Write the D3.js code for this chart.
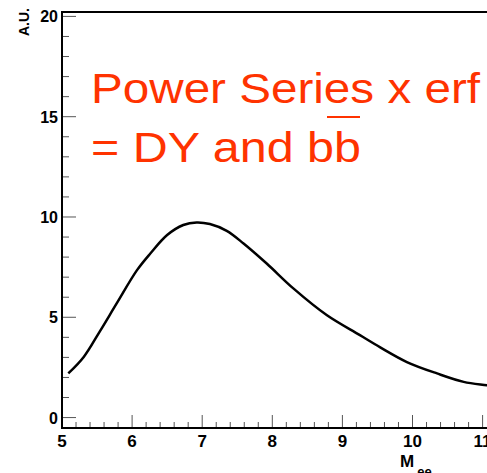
<!DOCTYPE html>
<html>
<head>
<meta charset="utf-8">
<script src="https://cdn.jsdelivr.net/npm/d3@7"></script>
<style>
body { margin: 0; background: #fff; }
svg { display: block; }
</style>
</head>
<body>
<div id="chart"></div>
<script>
var w = 487;
var h = 473;

// curve
var mass = [5.09, 5.31, 5.54, 5.78, 6.07, 6.26, 6.50, 6.73, 6.92, 7.11, 7.35, 7.59, 7.92, 8.30, 8.78, 9.25, 9.54, 9.92, 10.35, 10.73, 11.06, 11.3];
var yield_ = [2.2, 3.02, 4.3, 5.69, 7.35, 8.18, 9.10, 9.60, 9.73, 9.65, 9.31, 8.68, 7.68, 6.44, 5.10, 4.11, 3.5, 2.77, 2.2, 1.78, 1.61, 1.5];

var xTicks = [5, 6, 7, 8, 9, 10, 11];
var yTicks = [0, 5, 10, 15, 20];

var xScale = d3.scaleLinear()
			.domain([5, 11.5])
			.range([62, 62 + 6.5 * 70.1]);

var yScale = d3.scaleLinear()
			.domain([-0.52, 20.22])
			.range([428, 12]);

var svg = d3.select("#chart")
		.append("svg")
		.attr("width", w)
		.attr("height", h);

//minor ticks
var xMinor = d3.range(5, 11.5, 0.2).filter(function(d) { return Math.abs(d - Math.round(d)) > 0.01; });
var yMinor = d3.range(0, 20.1, 1).filter(function(d) { return d % 5 != 0; });

svg.selectAll(".xminor")
.data(xMinor)
.enter()
.append("line")
.attr("x1", function(d) { return xScale(d); })
.attr("x2", function(d) { return xScale(d); })
.attr("y1", 428)
.attr("y2", 422)
.attr("stroke", "#555")
.attr("stroke-width", 1);

svg.selectAll(".xmajor")
.data(xTicks)
.enter()
.append("line")
.attr("x1", function(d) { return xScale(d); })
.attr("x2", function(d) { return xScale(d); })
.attr("y1", 428)
.attr("y2", 415)
.attr("stroke", "#555")
.attr("stroke-width", 1);

svg.selectAll(".yminor")
.data(yMinor)
.enter()
.append("line")
.attr("x1", 62)
.attr("x2", 69)
.attr("y1", function(d) { return yScale(d); })
.attr("y2", function(d) { return yScale(d); })
.attr("stroke", "#555")
.attr("stroke-width", 1);

svg.selectAll(".ymajor")
.data(yTicks)
.enter()
.append("line")
.attr("x1", 62)
.attr("x2", 76)
.attr("y1", function(d) { return yScale(d); })
.attr("y2", function(d) { return yScale(d); })
.attr("stroke", "#555")
.attr("stroke-width", 1);

//frame
svg.append("path")
.attr("d", "M" + w + ",12H62V428H" + w)
.attr("fill", "none")
.attr("stroke", "#000")
.attr("stroke-width", 2);

//tick labels
svg.selectAll(".xlab")
.data(xTicks)
.enter()
.append("text")
.text(function(d) { return d; })
.attr("x", function(d) { return xScale(d); })
.attr("y", 447)
.attr("text-anchor", "middle")
.attr("font-family", "Liberation Sans, Arial, sans-serif")
.attr("font-weight", "bold")
.attr("font-size", "17px");

svg.selectAll(".ylab")
.data(yTicks)
.enter()
.append("text")
.text(function(d) { return d; })
.attr("x", 58)
.attr("y", function(d) { return yScale(d) + 6; })
.attr("text-anchor", "end")
.attr("font-family", "Liberation Sans, Arial, sans-serif")
.attr("font-weight", "bold")
.attr("font-size", "16px");

//axis titles
svg.append("text")
.attr("transform", "translate(29,8) rotate(-90)")
.attr("text-anchor", "end")
.attr("font-family", "Liberation Sans, Arial, sans-serif")
.attr("font-weight", "bold")
.attr("font-size", "14px")
.text("A.U.");

var mt = svg.append("text")
.attr("x", 400)
.attr("y", 467)
.attr("font-family", "Liberation Sans, Arial, sans-serif")
.attr("font-weight", "bold")
.attr("font-size", "17px");
mt.append("tspan").text("M");
mt.append("tspan").attr("dx", 3).attr("dy", 9).attr("font-size", "13px").text("ee");

//curve
var line = d3.line()
	.x(function(d, i) { return xScale(mass[i]); })
	.y(function(d) { return yScale(d); })
	.curve(d3.curveCatmullRom);

svg.append("path")
.datum(yield_)
.attr("d", line)
.attr("fill", "none")
.attr("stroke", "#000")
.attr("stroke-width", 2.5);

//annotation
var red = "#ff3300";
svg.append("text")
.attr("x", 91)
.attr("y", 103)
.attr("fill", red)
.attr("font-family", "Liberation Sans, Arial, sans-serif")
.attr("font-size", "43px")
.attr("textLength", 389)
.attr("lengthAdjust", "spacingAndGlyphs")
.text("Power Series x erf");

var t2 = svg.append("text")
.attr("x", 91)
.attr("y", 162)
.attr("fill", red)
.attr("font-family", "Liberation Sans, Arial, sans-serif")
.attr("font-size", "43px")
.attr("textLength", 270)
.attr("lengthAdjust", "spacingAndGlyphs")
.text("= DY and bb");

svg.append("line")
.attr("x1", 327)
.attr("x2", 360)
.attr("y1", 117)
.attr("y2", 117)
.attr("stroke", red)
.attr("stroke-width", 2);
</script>
</body>
</html>
